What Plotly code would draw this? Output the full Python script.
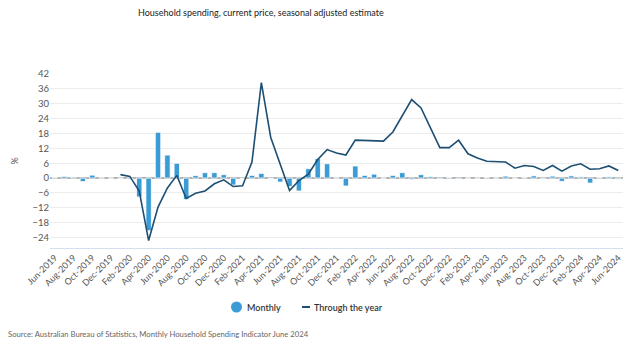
import pandas as pd
import plotly.graph_objects as go

categories = [d.strftime("%b-%Y") for d in pd.date_range("2019-06-01", "2024-06-01", freq="MS")]

monthly = [0.2, 0.7, 0.4, -1.4, 1.2, 0.1, 0.0, -0.1, -0.4, -7.6, -21.2, 18.5, 9.3, 6.0,
           -8.6, 1.0, 2.2, 2.2, 1.4, -2.8, -0.2, 1.1, 1.9, -0.2, -1.6, -3.4, -5.2, 3.8,
           7.9, 5.8, 0.1, -3.2, 4.9, 1.1, 1.6, 0.0, 1.1, 2.2, -0.6, 1.4, 0.6, -0.3,
           0.2, -0.3, 0.0, 0.0, 0.2, 0.0, 0.8, 0.0, 0.2, 0.9, -0.3, 0.8, -1.3, 0.9,
           0.5, -2.0, 0.2, 0.5, -0.4]

through_year = [None, None, None, None, None, None, None, 1.4, 0.7, -5.2, -25.2, -11.7,
                -4.0, 1.1, -8.2, -6.1, -5.2, -2.3, -0.7, -3.4, -3.1, 6.5, 38.5, 16.4,
                5.6, -5.0, -1.0, 1.6, 7.5, 11.5, 10.1, 9.3, 15.3, 15.1, 14.9, 14.9,
                18.6, 25.4, 31.7, 28.3, 20.0, 12.3, 12.3, 15.3, 9.8, 8.1, 6.8, 6.8,
                6.5, 4.0, 5.1, 4.7, 3.1, 5.1, 2.8, 4.9, 5.8, 3.6, 3.8, 4.9, 3.1]

tick_labels = categories[::2]
y_ticks = [-24, -18, -12, -6, 0, 6, 12, 18, 24, 30, 36, 42]

FONT = "Lato, Open Sans, sans-serif"
BAR_COLOR = "#3a9bd5"
LINE_COLOR = "#1d4f73"

fig = go.Figure()
fig.add_trace(go.Bar(x=categories, y=monthly, name="Monthly", showlegend=False,
                     marker=dict(color=BAR_COLOR, line=dict(color="white", width=0.8))))
fig.add_trace(go.Scatter(x=categories, y=through_year, name="Through the year", mode="lines",
                         showlegend=False, line=dict(color=LINE_COLOR, width=1.6)))

L, R, T, B = 50, 7, 74, 102
W, H = 630, 350
pw, ph = W - L - R, H - T - B


def px_x(x):
    return (x - L) / pw


def px_y(y):
    return (T + ph - y) / ph


shapes = [
    dict(type="circle", xref="paper", yref="paper", x0=px_x(231), x1=px_x(242),
         y0=px_y(312.5), y1=px_y(301.5), fillcolor=BAR_COLOR, line=dict(width=0)),
    dict(type="line", xref="paper", yref="paper", x0=px_x(302), x1=px_x(310),
         y0=px_y(307), y1=px_y(307), line=dict(color=LINE_COLOR, width=2)),
]

fig.update_layout(
    width=W, height=H,
    margin=dict(l=L, r=R, t=T, b=B),
    paper_bgcolor="white", plot_bgcolor="white",
    bargap=0.42,
    font=dict(family=FONT, size=9, color="#555555"),
    showlegend=False,
    xaxis=dict(type="category", tickmode="array", tickvals=tick_labels, ticktext=tick_labels,
               tickangle=-45, showgrid=False, showline=True, linecolor="#d5dff0",
               linewidth=1, ticks="", tickfont=dict(size=9, color="#555555"),
               range=[-0.5, 60.5]),
    yaxis=dict(range=[-28.2, 42], tickmode="array", tickvals=y_ticks, showgrid=True,
               gridcolor="#ececec", gridwidth=1, zeroline=True, zerolinecolor="#b5b5b5",
               zerolinewidth=1.5, tickfont=dict(size=9.5, color="#555555"),
               title=dict(text="%", standoff=12, font=dict(size=9, color="#555555"))),
    shapes=shapes,
    annotations=[
        dict(text="Household spending, current price, seasonal adjusted estimate",
             xref="paper", yref="paper", x=px_x(261), y=px_y(13),
             xanchor="center", yanchor="middle", showarrow=False,
             font=dict(size=9, color="#222222")),
        dict(text="Monthly", xref="paper", yref="paper", x=px_x(245), y=px_y(307),
             xanchor="left", yanchor="middle", showarrow=False,
             font=dict(size=9, color="#333333", weight=600)),
        dict(text="Through the year", xref="paper", yref="paper", x=px_x(312), y=px_y(307),
             xanchor="left", yanchor="middle", showarrow=False,
             font=dict(size=9, color="#333333", weight=600)),
        dict(text="Source: Australian Bureau of Statistics, Monthly Household Spending Indicator June 2024",
             xref="paper", yref="paper", x=px_x(6), y=px_y(334),
             xanchor="left", yanchor="middle", showarrow=False,
             font=dict(size=7.7, color="#666666")),
    ],
)

fig.write_html("out.html")
